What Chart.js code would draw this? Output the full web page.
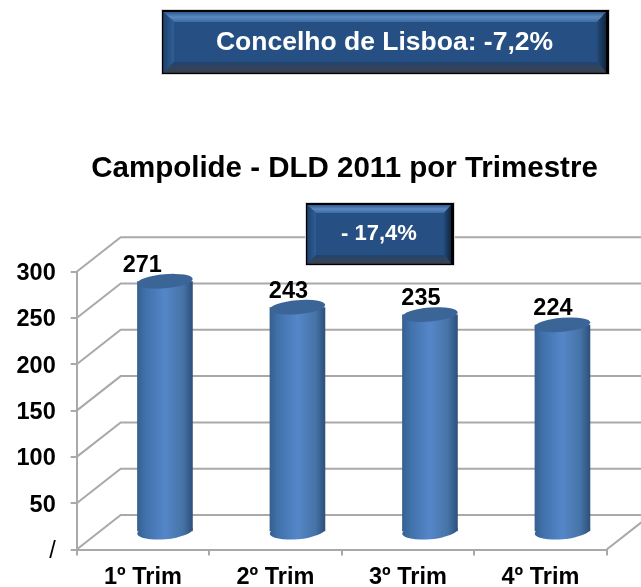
<!DOCTYPE html>
<html lang="pt">
<head>
<meta charset="utf-8">
<title>Campolide - DLD 2011 por Trimestre</title>
<script src="https://cdn.jsdelivr.net/npm/chart.js@4"></script>
<style>
  html, body { margin: 0; padding: 0; background: #fff; }
  canvas { display: block; }
</style>
</head>
<body>
<canvas id="chart" width="641" height="587"></canvas>
<script>
const quarters = ["1º Trim", "2º Trim", "3º Trim", "4º Trim"];
const dldValues = [271, 243, 235, 224];
const yTickLabels = ["/", "50", "100", "150", "200", "250", "300"];
const chartTitle = "Campolide - DLD 2011 por Trimestre";
const cityBoxText = "Concelho de Lisboa: -7,2%";
const changeBoxText = "- 17,4%";

const FONT = "'Liberation Sans', Arial, sans-serif";
const GRID = "#a9a9a9";
// fake 3D: the back wall sits up and to the right of the axes, bars stand half way in
const WALL = { dx: 44, dy: -34.5 };
const BAR_DEPTH = { dx: 22, dy: -17.3 };
const BAR_FRACTION = 0.42;
const LABEL_SHIFT = [-22.7, -9, -9, -9.5];

function barGradient(ctx, center, half) {
  const g = ctx.createLinearGradient(center - half, 0, center + half, 0);
  g.addColorStop(0, "#35608f");
  g.addColorStop(0.15, "#4171ab");
  g.addColorStop(0.5, "#5586c8");
  g.addColorStop(0.82, "#4674a8");
  g.addColorStop(1, "#2d4f7a");
  return g;
}

function slantedEllipse(ctx, x, y, rx, ry, fill) {
  ctx.beginPath();
  ctx.ellipse(x, y, rx, ry, -5 * Math.PI / 180, 0, Math.PI * 2);
  ctx.fillStyle = fill;
  ctx.fill();
}

const wallsPlugin = {
  id: "walls",
  beforeDatasetsDraw(chart) {
    const { ctx, chartArea, scales } = chart;
    ctx.save();
    ctx.strokeStyle = GRID;
    ctx.lineWidth = 2;
    scales.y.ticks.forEach((tick) => {
      const y = scales.y.getPixelForValue(tick.value);
      ctx.beginPath();
      ctx.moveTo(chartArea.left, y);
      ctx.lineTo(chartArea.left + WALL.dx, y + WALL.dy);
      ctx.lineTo(chartArea.right + WALL.dx, y + WALL.dy);
      ctx.stroke();
    });
    // right edge of the floor
    ctx.beginPath();
    ctx.moveTo(chartArea.right, chartArea.bottom);
    ctx.lineTo(chartArea.right + WALL.dx, chartArea.bottom + WALL.dy);
    ctx.stroke();
    ctx.restore();
  },
};

const cylinderPlugin = {
  id: "cylinders",
  beforeDatasetDraw(chart, args) {
    const ctx = chart.ctx;
    ctx.save();
    ctx.translate(BAR_DEPTH.dx, BAR_DEPTH.dy);
    args.meta.data.forEach((bar) => {
      const half = bar.width / 2;
      slantedEllipse(ctx, bar.x, bar.base, half, 8, barGradient(ctx, bar.x, half));
    });
  },
  afterDatasetDraw(chart, args) {
    const ctx = chart.ctx;
    args.meta.data.forEach((bar) => {
      slantedEllipse(ctx, bar.x, bar.y, bar.width / 2, 7, "#3b6596");
    });
    ctx.restore();
    ctx.save();
    ctx.fillStyle = "#000";
    ctx.font = `bold 23.5px ${FONT}`;
    ctx.textAlign = "center";
    ctx.textBaseline = "alphabetic";
    args.meta.data.forEach((bar, i) => {
      const x = bar.x + BAR_DEPTH.dx + LABEL_SHIFT[i];
      ctx.fillText(String(dldValues[i]), x, bar.y + BAR_DEPTH.dy - 9.5);
    });
    ctx.restore();
  },
};

function bevelBox(ctx, x, y, w, h, bevel, text, fontSize, textX, textY) {
  const l = x, t = y, r = x + w, b = y + h;
  const il = l + bevel, it = t + bevel, ir = r - bevel, ib = b - bevel;
  const poly = (pts, fill) => {
    ctx.beginPath();
    pts.forEach((p, i) => (i ? ctx.lineTo(p[0], p[1]) : ctx.moveTo(p[0], p[1])));
    ctx.closePath();
    ctx.fillStyle = fill;
    ctx.fill();
  };
  ctx.save();
  ctx.fillStyle = "#d8d8d8";
  ctx.fillRect(l - 1, t - 1, w + 2, h + 2);
  ctx.fillStyle = "#000";
  ctx.fillRect(l, t, w, h);

  const fl = l + 1.5, ft = t + 2, fr = r - 3, fb = b - 1.5;
  ctx.fillStyle = "#265083";
  ctx.fillRect(fl, ft, fr - fl, fb - ft);

  const top = ctx.createLinearGradient(0, ft, 0, it);
  top.addColorStop(0, "#2c5a91");
  top.addColorStop(0.5, "#5a88bf");
  top.addColorStop(1, "#3c6ca3");
  poly([[fl, ft], [fr, ft], [ir, it], [il, it]], top);

  const left = ctx.createLinearGradient(fl, 0, il, 0);
  left.addColorStop(0, "#1d4470");
  left.addColorStop(1, "#2f5e96");
  poly([[fl, ft], [il, it], [il, ib], [fl, fb]], left);

  const right = ctx.createLinearGradient(ir, 0, fr, 0);
  right.addColorStop(0, "#234a78");
  right.addColorStop(1, "#10263f");
  poly([[fr, ft], [fr, fb], [ir, ib], [ir, it]], right);

  const bottom = ctx.createLinearGradient(0, ib, 0, fb);
  bottom.addColorStop(0, "#1f4470");
  bottom.addColorStop(0.6, "#33435a");
  bottom.addColorStop(1, "#3c3f45");
  poly([[il, ib], [ir, ib], [fr, fb], [fl, fb]], bottom);

  ctx.fillStyle = "#fff";
  ctx.font = `bold ${fontSize}px ${FONT}`;
  ctx.textAlign = "center";
  ctx.textBaseline = "alphabetic";
  ctx.fillText(text, textX, textY);
  ctx.restore();
}

const overlayPlugin = {
  id: "overlay",
  afterDraw(chart) {
    const ctx = chart.ctx;
    ctx.save();
    ctx.fillStyle = "#000";
    ctx.font = `bold 29.5px ${FONT}`;
    ctx.textAlign = "center";
    ctx.textBaseline = "alphabetic";
    ctx.fillText(chartTitle, 344.5, 177);
    ctx.restore();
    bevelBox(ctx, 162, 10, 447, 64, 12, cityBoxText, 26.5, 384.5, 50);
    bevelBox(ctx, 306, 203, 148, 62, 10, changeBoxText, 22, 379, 239.5);
  },
};

new Chart(document.getElementById("chart"), {
  type: "bar",
  data: {
    labels: quarters,
    datasets: [{
      data: dldValues,
      clip: false,
      barPercentage: BAR_FRACTION,
      categoryPercentage: 1,
      backgroundColor(context) {
        const scale = context.chart.scales.x;
        if (!scale || !context.chart.chartArea) return "#4a78b4";
        const center = scale.getPixelForValue(context.dataIndex);
        const half = (scale.width / quarters.length) * BAR_FRACTION / 2;
        return barGradient(context.chart.ctx, center, half);
      },
      borderWidth: 0,
    }],
  },
  options: {
    responsive: false,
    animation: false,
    layout: { padding: { top: 271.7, right: 34.3, left: 0, bottom: 0 } },
    plugins: {
      legend: { display: false },
      title: { display: false },
      tooltip: { enabled: false },
    },
    scales: {
      x: {
        afterFit(scale) { scale.height = 37.5; },
        grid: { drawOnChartArea: false, color: GRID, lineWidth: 2, tickLength: 6 },
        border: { color: GRID, width: 2 },
        ticks: {
          color: "#000",
          padding: 8,
          maxRotation: 0,
          font: { family: FONT, size: 23.5, weight: "bold" },
        },
      },
      y: {
        min: 0,
        max: 300,
        afterFit(scale) { scale.width = 76.7; },
        grid: { drawOnChartArea: false, color: GRID, lineWidth: 2, tickLength: 6 },
        border: { color: GRID, width: 2 },
        ticks: {
          stepSize: 50,
          color: "#000",
          padding: 15,
          labelOffset: 2,
          font(context) {
            const zero = context.tick && context.tick.value === 0;
            return { family: FONT, size: 23.5, weight: zero ? "normal" : "bold" };
          },
          callback(value, index) { return yTickLabels[index]; },
        },
      },
    },
  },
  plugins: [wallsPlugin, cylinderPlugin, overlayPlugin],
});
</script>
</body>
</html>
